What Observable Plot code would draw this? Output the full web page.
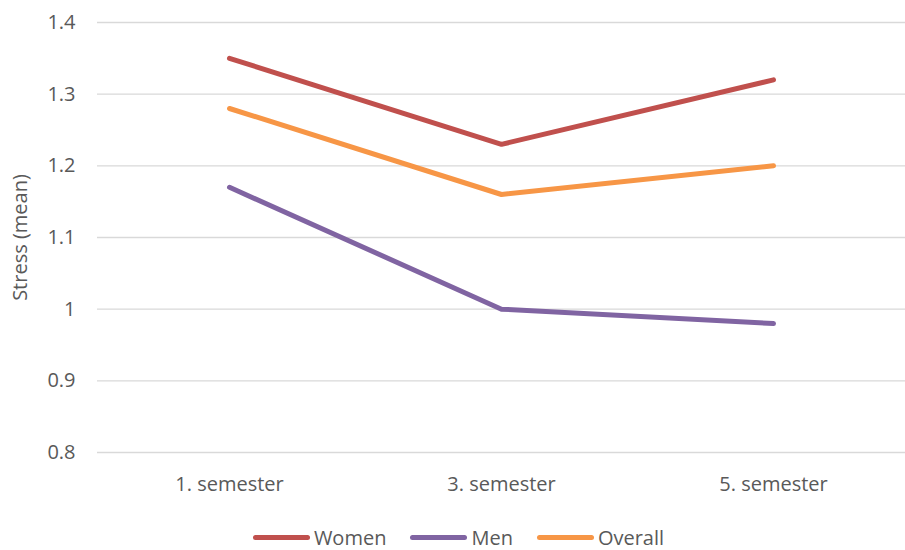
<!DOCTYPE html>
<html><head><meta charset="utf-8">
<script src="https://cdn.jsdelivr.net/npm/d3@7"></script>
<script src="https://cdn.jsdelivr.net/npm/@observablehq/plot@0.6"></script>
<style>
body{margin:0;background:#fff;font-family:"Open Sans",sans-serif;}
#chart svg{display:block}
#legend{display:flex;justify-content:center;gap:24px;height:45px;align-items:center;color:#595959;font-size:20px;line-height:24px;padding-left:12px;padding-top:20px;box-sizing:border-box}
#legend .it{display:flex;align-items:center;gap:4px}
#legend .sw{width:57px;height:5px;border-radius:3px}
</style></head><body>
<div id="chart"></div>
<div id="legend"></div>
<script>
const semesters = ["1. semester","3. semester","5. semester"];
const seriesNames = ["Women","Men","Overall"];
const women = [1.35,1.23,1.32];
const men = [1.17,1.00,0.98];
const overall = [1.28,1.16,1.20];
const colors = ["#C0504D","#8064A2","#F79646"];
const yTicks = [0.8,0.9,1,1.1,1.2,1.3,1.4];

const valuesBySeries = [women, men, overall];
const data = [];
seriesNames.forEach((s,i)=>semesters.forEach((sem,j)=>data.push({series:s, semester:sem, value:valuesBySeries[i][j]})));

const fmt = d=>String(+d.toFixed(1));
const plot = Plot.plot({
  width:905, height:505,
  marginTop:22, marginBottom:53, marginLeft:97, marginRight:0,
  style:{fontFamily:"Open Sans, sans-serif", fontSize:"20px", color:"#595959", overflow:"visible"},
  x:{type:"point", domain:semesters, padding:0.485, label:null},
  y:{domain:[0.8,1.4], ticks:yTicks, label:null, tickFormat:fmt},
  color:{domain:seriesNames, range:colors},
  marks:[
    Plot.ruleY(yTicks,{stroke:"#d9d9d9", strokeWidth:1.3}),
    Plot.axisY({ticks:yTicks, tickSize:0, tickPadding:22, label:null, tickFormat:fmt, fill:"#595959", fontSize:20}),
    Plot.axisX({tickSize:0, tickPadding:24, label:null, fill:"#595959", fontSize:20}),
    Plot.text(["Stress (mean)"],{frameAnchor:"left", dx:-77, rotate:-90, textAnchor:"middle", fill:"#595959", fontSize:20}),
    Plot.line(data,{x:"semester", y:"value", z:"series", stroke:"series", strokeWidth:5, strokeLinecap:"round", strokeLinejoin:"round"})
  ]
});
document.getElementById("chart").appendChild(plot);

const lg = document.getElementById("legend");
seriesNames.forEach((s,i)=>{
  const it=document.createElement("div");it.className="it";
  const sw=document.createElement("span");sw.className="sw";sw.style.background=colors[i];
  const t=document.createElement("span");t.textContent=s;
  it.appendChild(sw);it.appendChild(t);lg.appendChild(it);
});
</script>
</body></html>
